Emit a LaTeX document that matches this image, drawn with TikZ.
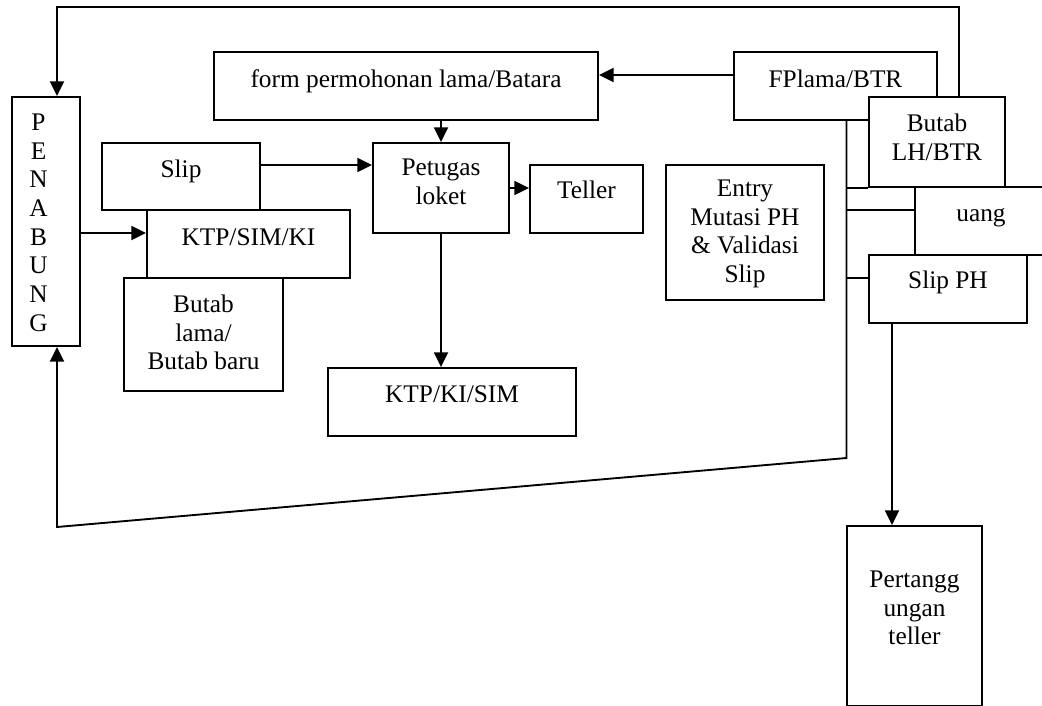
\documentclass[tikz,border=0pt]{standalone}
\usepackage{fontspec}
\setmainfont{Liberation Serif}
\usetikzlibrary{arrows.meta,fit}
\begin{document}
\begin{tikzpicture}[x=0.75pt,y=-0.75pt,
  line width=1.4pt,
  box/.style={draw, fill=white, inner sep=0pt},
  txt/.style={inner sep=0pt, align=center, anchor=north,
    font=\fontsize{19}{21.5}\selectfont,
    execute at begin node={\rule{0pt}{13.5pt}}},
  arr/.style={-{Triangle[length=11pt,width=10.5pt]}}]
\useasboundingbox (0,0) rectangle (1042,706);
\clip (0,0) rectangle (1042,706);

% helper points for connector routes
\coordinate (topL) at (57,7);
\coordinate (topR) at (959,7);
\coordinate (fpy) at (0,75);
\coordinate (slipy) at (0,165);
\coordinate (peny) at (0,233);
\coordinate (bus) at (846.5,120);
\coordinate (busbot) at (846.5,458);
\coordinate (botL) at (57,527);
\coordinate (br2) at (846.5,210);
\coordinate (br3) at (846.5,278);
\coordinate (tx) at (892,0);

% boxes
\node[box, fit={(12,97) (80,346)}] (pen) {};
\node[box, fit={(214,52) (598,120)}] (form) {};
\node[box, fit={(734,52) (937,120)}] (fp) {};
\node[box, fit={(869,97) (1005,187)}] (butab) {};
\node[box, fit={(915,187) (1048,255)}] (uang) {};
\node[box, fit={(869,255) (1027,323)}] (sph) {};
\node[box, fit={(666,165) (824,300)}] (entry) {};
\node[box, fit={(530,165) (643,233)}] (teller) {};
\node[box, fit={(373,143) (509,233)}] (pet) {};
\node[box, fit={(102,143) (260,210)}] (slip) {};
\node[box, fit={(147,210) (350,278)}] (ktpa) {};
\node[box, fit={(124,278) (283,391)}] (blama) {};
\node[box, fit={(328,368) (576,436)}] (ktpb) {};
\node[box, fit={(847,526) (982,706)}] (pert) {};

% labels
\node[txt] (pen-t) at (38.5,113) {P\\E\\N\\A\\B\\U\\N\\G};
\node[txt] (form-t) at (406,69) {form permohonan lama/Batara};
\node[txt] (fp-t) at (835.5,69) {FPlama/BTR};
\node[txt] (butab-t) at (937,113) {Butab\\LH/BTR};
\node[txt] (uang-t) at (981,203) {uang};
\node[txt] (sph-t) at (948,270) {Slip PH};
\node[txt] (entry-t) at (745,179) {Entry\\Mutasi PH\\\& Validasi\\Slip};
\node[txt] (teller-t) at (586.5,180) {Teller};
\node[txt] (pet-t) at (441,158) {Petugas\\loket};
\node[txt] (slip-t) at (181,159) {Slip};
\node[txt] (ktpa-t) at (248.5,227) {KTP/SIM/KI};
\node[txt] (blama-t) at (203.5,294) {Butab\\lama/\\Butab baru};
\node[txt] (ktpb-t) at (452,384) {KTP/KI/SIM};
\node[txt] (pert-t) at (914.5,570) {Pertangg\\ungan\\teller};

% connectors
\draw[arr] (butab.north -| topR) -- (topR) -- (topL) -- (pen.north -| topL);
\draw[arr] (fp.west |- fpy) -- (form.east |- fpy);
\draw[arr] (form.south -| pet.north) -- (pet.north);
\draw[arr] (slip.east |- slipy) -- (pet.west |- slipy);
\draw[arr] (pen.east |- peny) -- (ktpa.west |- peny);
\draw[arr] (pet.east) -- (teller.west |- pet.east);
\draw[arr] (pet.south) -- (ktpb.north -| pet.south);
\draw[arr] (fp.south -| bus) -- (busbot) -- (botL) -- (pen.south -| botL);
\draw (butab.south west -| bus) -- (butab.south west);
\draw (br2) -- (uang.west |- br2);
\draw (br3) -- (sph.west |- br3);
\draw[arr] (sph.south -| tx) -- (pert.north -| tx);
\end{tikzpicture}
\end{document}
